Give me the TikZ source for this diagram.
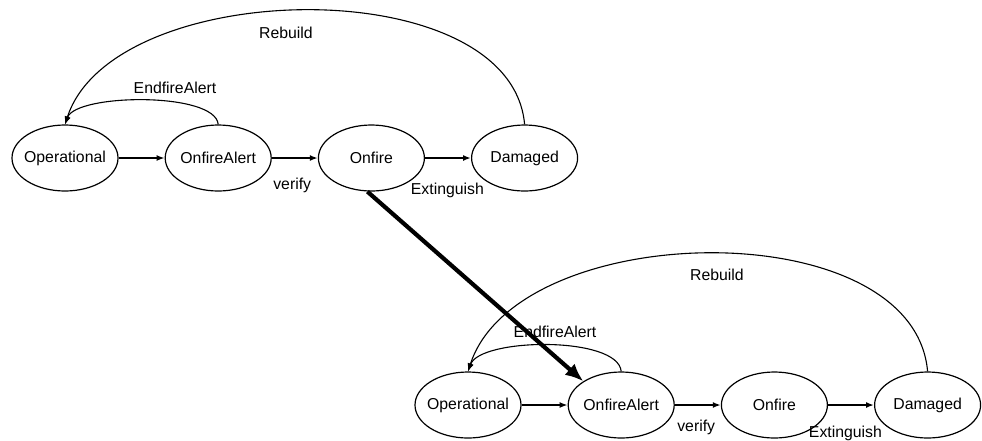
\documentclass[tikz,border=0pt]{standalone}
\usepackage{fontspec}
\setmainfont{Liberation Sans}
\usetikzlibrary{positioning,arrows.meta,shapes.geometric}

\begin{document}
\begin{tikzpicture}[x=1pt,y=1pt,
   state/.style={draw,ellipse,line width=1.2pt,minimum width=106pt,minimum height=66pt,
     inner xsep=-6pt,inner ysep=0pt,font=\fontsize{15.8pt}{18pt}\selectfont},
   lbl/.style={inner sep=0pt,font=\fontsize{15.8pt}{18pt}\selectfont},
   trans/.style={line width=1.6pt,-{Latex[length=8pt,width=6pt]}},
   back/.style={line width=1.1pt,-{Latex[length=8pt,width=6pt]}},
   jump/.style={line width=4.2pt,-{Latex[length=18pt,width=15pt]}},
   node distance=46pt]
 \useasboundingbox (0,0) rectangle (982,-440);

 % upper chain
 \node[state] (op1) at (65,-158) {Operational};
 \node[state,right=of op1] (oa1) {OnfireAlert};
 \node[state,right=of oa1] (of1) {Onfire};
 \node[state,right=of of1] (dm1) {Damaged};

 \draw[trans] (op1) -- (oa1);
 \draw[trans] (oa1) -- (of1);
 \draw[trans] (of1) -- (dm1);
 \draw[back] (oa1.north) to[out=95,in=70,looseness=0.55] (op1.north);
 \draw[back] (dm1.north) to[out=95,in=72,looseness=0.87] (op1.north);

 \path (oa1) ++(74,-27) node[lbl] (vf1) {verify};
 \path (of1) ++(76,-32) node[lbl] (ex1) {Extinguish};
 \path (op1) ++(110,70) node[lbl] (ea1) {EndfireAlert};
 \path (op1) ++(221,125) node[lbl] (rb1) {Rebuild};

 % lower chain
 \node[state] (op2) at (468,-405) {Operational};
 \node[state,right=of op2] (oa2) {OnfireAlert};
 \node[state,right=of oa2] (of2) {Onfire};
 \node[state,right=of of2] (dm2) {Damaged};

 \draw[trans] (op2) -- (oa2);
 \draw[trans] (oa2) -- (of2);
 \draw[trans] (of2) -- (dm2);
 \draw[back] (oa2.north) to[out=95,in=70,looseness=0.6] (op2.north);
 \draw[back] (dm2.north) to[out=95,in=72,looseness=0.9] (op2.north);

 \path (oa2) ++(75,-22) node[lbl] (vf2) {verify};
 \path (of2) ++(71,-28) node[lbl] (ex2) {Extinguish};
 \path (op2) ++(87,73) node[lbl] (ea2) {EndfireAlert};
 \path (op2) ++(249,130) node[lbl] (rb2) {Rebuild};

 \draw[jump] ([xshift=-4pt]of1.south) -- (oa2.north west);
\end{tikzpicture}
\end{document}
